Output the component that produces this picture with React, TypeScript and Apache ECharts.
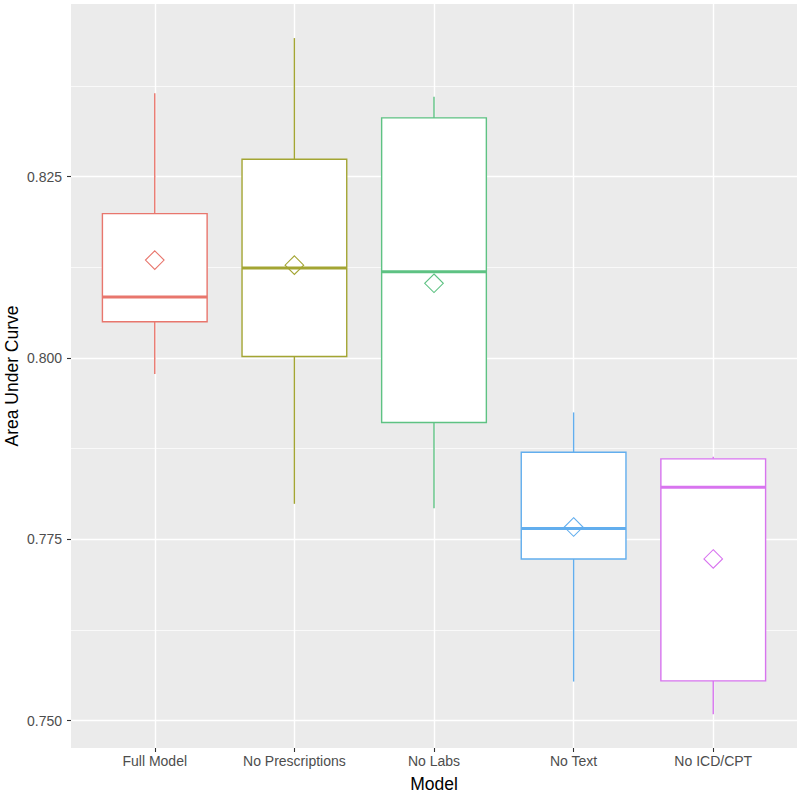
import React, { useEffect, useRef } from 'react';
import * as echarts from 'echarts';

const categories = ['Full Model', 'No Prescriptions', 'No Labs', 'No Text', 'No ICD/CPT'];
const whiskerLow = [0.7978, 0.7799, 0.7793, 0.7554, 0.7509];
const q1 = [0.805, 0.8002, 0.7911, 0.7723, 0.7555];
const median = [0.8084, 0.8124, 0.8119, 0.7765, 0.7822];
const q3 = [0.8199, 0.8274, 0.8331, 0.787, 0.7861];
const whiskerHigh = [0.8365, 0.8441, 0.836, 0.7925, 0.7864];
const means = [0.8135, 0.8128, 0.8103, 0.7767, 0.7723];
const colors = ['#E8766D', '#A3A533', '#5EC283', '#62AEEE', '#D874EF'];
const majorTicks = [0.75, 0.775, 0.8, 0.825];
const minorTicks = [0.7625, 0.7875, 0.8125, 0.8375];
const xTicks = [1, 2, 3, 4, 5];

const FONT = '"Liberation Sans", Arial, Helvetica, sans-serif';

export default function App() {
  const ref = useRef<HTMLDivElement>(null);
  useEffect(() => {
    if (!ref.current) return;
    const chart = echarts.init(ref.current, undefined, { renderer: 'svg' });
    const data = categories.map((_, i) => [
      i + 1,
      whiskerLow[i],
      q1[i],
      median[i],
      q3[i],
      whiskerHigh[i],
      means[i],
    ]);
    const option: any = {
      animation: false,
      backgroundColor: '#ffffff',
      textStyle: { fontFamily: FONT },
      grid: {
        left: 71,
        right: 3,
        top: 4,
        bottom: 45,
        show: true,
        backgroundColor: '#EBEBEB',
        borderWidth: 0,
        containLabel: false,
        outerBoundsMode: 'none',
      },
      xAxis: {
        type: 'value',
        min: 0.4,
        max: 5.6,
        name: 'Model',
        nameLocation: 'middle',
        nameGap: 27,
        nameMoveOverlap: false,
        nameTextStyle: { fontSize: 17.5, color: '#000', fontFamily: FONT },
        axisLine: { show: false },
        axisTick: { show: true, customValues: xTicks, length: 4, lineStyle: { color: '#333', width: 1.1 } },
        axisLabel: {
          customValues: xTicks,
          formatter: (v: number) => categories[Math.round(v) - 1] || '',
          color: '#4D4D4D',
          fontSize: 14,
          margin: 6,
          fontFamily: FONT,
        },
        splitLine: { show: true, lineStyle: { color: '#FFFFFF', width: 1.4 } },
      },
      yAxis: [
        {
          type: 'value',
          min: 0.74624,
          max: 0.8488,
          name: 'Area Under Curve',
          nameLocation: 'middle',
          nameGap: 50,
          nameMoveOverlap: false,
          nameTextStyle: { fontSize: 17.5, color: '#000', fontFamily: FONT },
          axisLine: { show: false },
          axisTick: { show: true, customValues: majorTicks, length: 4, lineStyle: { color: '#333', width: 1.1 } },
          axisLabel: {
            customValues: majorTicks,
            formatter: (v: number) => v.toFixed(3),
            color: '#4D4D4D',
            fontSize: 14,
            margin: 9,
            fontFamily: FONT,
          },
          splitLine: { show: true, lineStyle: { color: '#FFFFFF', width: 1.4 } },
          z: 1,
        },
        {
          type: 'value',
          min: 0.74624,
          max: 0.8488,
          position: 'left',
          axisLine: { show: false },
          axisTick: { show: false, customValues: minorTicks },
          axisLabel: { show: false, customValues: minorTicks },
          splitLine: { show: true, lineStyle: { color: '#FFFFFF', width: 0.7 } },
          z: 0,
        },
      ],
      series: [
        {
          type: 'custom',
          xAxisIndex: 0,
          yAxisIndex: 0,
          data,
          encode: { x: 0, y: [1, 2, 3, 4, 5, 6] },
          renderItem: (params: any, api: any) => {
            const i = params.dataIndex;
            const x = api.value(0);
            const color = colors[i];
            const pMin = api.coord([x, api.value(1)]);
            const pQ1 = api.coord([x, api.value(2)]);
            const pMed = api.coord([x, api.value(3)]);
            const pQ3 = api.coord([x, api.value(4)]);
            const pMax = api.coord([x, api.value(5)]);
            const pMean = api.coord([x, api.value(6)]);
            const halfW = api.size([0.75, 0])[0] / 2;
            const cx = pMed[0];
            const d = 9.3;
            return {
              type: 'group',
              children: [
                {
                  type: 'line',
                  shape: { x1: cx, y1: pQ3[1], x2: cx, y2: pMax[1] },
                  style: { stroke: color, lineWidth: 1.4 },
                },
                {
                  type: 'line',
                  shape: { x1: cx, y1: pQ1[1], x2: cx, y2: pMin[1] },
                  style: { stroke: color, lineWidth: 1.4 },
                },
                {
                  type: 'rect',
                  shape: { x: cx - halfW, y: pQ3[1], width: halfW * 2, height: pQ1[1] - pQ3[1] },
                  style: { fill: '#FFFFFF', stroke: color, lineWidth: 1.4 },
                },
                {
                  type: 'line',
                  shape: { x1: cx - halfW, y1: pMed[1], x2: cx + halfW, y2: pMed[1] },
                  style: { stroke: color, lineWidth: 3 },
                },
                {
                  type: 'polygon',
                  shape: {
                    points: [
                      [pMean[0], pMean[1] - d],
                      [pMean[0] + d, pMean[1]],
                      [pMean[0], pMean[1] + d],
                      [pMean[0] - d, pMean[1]],
                    ],
                  },
                  style: { fill: 'none', stroke: color, lineWidth: 1.1 },
                },
              ],
            };
          },
        },
      ],
    };
    chart.setOption(option);
    return () => chart.dispose();
  }, []);
  return (
    <div
      ref={ref}
      style={{ position: 'fixed', left: 0, top: 0, width: 800, height: 793 }}
    />
  );
}
